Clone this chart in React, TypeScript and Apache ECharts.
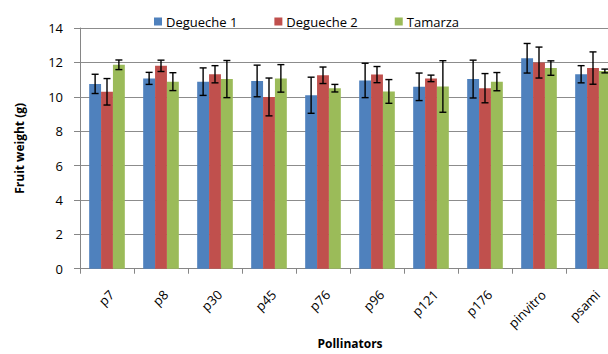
import React, { useEffect, useRef } from "react";
import * as echarts from "echarts";

const categories = ["p7", "p8", "p30", "p45", "p76", "p96", "p121", "p176", "pinvitro", "psami"];
const seriesNames = ["Degueche 1", "Degueche 2", "Tamarza"];
const degueche1 = [10.75, 11.07, 10.88, 10.92, 10.09, 10.95, 10.58, 11.03, 12.24, 11.31];
const degueche2 = [10.29, 11.8, 11.31, 9.99, 11.25, 11.29, 11.07, 10.5, 11.99, 11.67];
const tamarza = [11.86, 10.88, 11.03, 11.07, 10.5, 10.31, 10.6, 10.88, 11.67, 11.5];
const err1 = [0.56, 0.35, 0.8, 0.92, 1.05, 1.0, 0.8, 1.1, 0.86, 0.5];
const err2 = [0.77, 0.33, 0.5, 1.1, 0.48, 0.47, 0.19, 0.85, 0.9, 0.94];
const err3 = [0.28, 0.52, 1.08, 0.8, 0.22, 0.69, 1.5, 0.53, 0.42, 0.11];
const yTicks = [0, 2, 4, 6, 8, 10, 12, 14];

const colors = ["#4F81BD", "#C0504D", "#9BBB59"];
const values = [degueche1, degueche2, tamarza];
const errors = [err1, err2, err3];
const CAT_GAP = 0.34;

export default function App() {
  const ref = useRef<HTMLDivElement>(null);
  useEffect(() => {
    if (!ref.current) return;
    const chart = echarts.init(ref.current, undefined, { renderer: "svg" });
    const font = "'Open Sans', 'Noto Sans', sans-serif";

    const barSeries = values.map((vals, i) => ({
      type: "bar",
      name: seriesNames[i],
      data: vals,
      barGap: "0%",
      barCategoryGap: CAT_GAP * 100 + "%",
      itemStyle: { color: colors[i] },
    }));

    const errSeries = values.map((vals, i) => ({
      type: "custom",
      name: seriesNames[i] + " err",
      data: vals.map((v, j) => [j, v - errors[i][j], v + errors[i][j]]),
      z: 10,
      renderItem: (params: any, api: any) => {
        const cat = api.value(0);
        const lo = api.coord([cat, api.value(1)]);
        const hi = api.coord([cat, api.value(2)]);
        const band = api.size([1, 0])[0];
        const bw = (band * (1 - CAT_GAP)) / 3;
        const x = lo[0] + (i - 1) * bw;
        const cap = 3.5;
        const style = { stroke: "#000", lineWidth: 1.4 };
        return {
          type: "group",
          children: [
            { type: "line", shape: { x1: x, y1: lo[1], x2: x, y2: hi[1] }, style },
            { type: "line", shape: { x1: x - cap, y1: lo[1], x2: x + cap, y2: lo[1] }, style },
            { type: "line", shape: { x1: x - cap, y1: hi[1], x2: x + cap, y2: hi[1] }, style },
          ],
        };
      },
    }));

    chart.setOption({
      animation: false,
      backgroundColor: "#fff",
      textStyle: { fontFamily: font },
      legend: {
        data: seriesNames,
        top: 10,
        left: 149,
        itemWidth: 8,
        itemHeight: 8,
        itemGap: 37,
        icon: "rect",
        textStyle: { fontSize: 13, color: "#000", fontFamily: font, padding: [0, 0, 0, -1] },
      },
      grid: { left: 80, top: 28, width: 540, height: 248 },
      xAxis: {
        type: "category",
        data: categories,
        name: "Pollinators",
        nameLocation: "middle",
        nameGap: 62,
        nameTextStyle: { fontWeight: "bold", fontSize: 12, color: "#000" },
        axisLine: { lineStyle: { color: "#868686" } },
        axisTick: { show: true, length: 5, lineStyle: { color: "#868686" } },
        axisLabel: { rotate: 45, fontSize: 13, color: "#000", margin: 19, interval: 0, verticalAlign: "top" },
      },
      yAxis: {
        type: "value",
        min: 0,
        max: 14,
        interval: 2,
        name: "Fruit weight (g)",
        nameLocation: "middle",
        nameRotate: 90,
        nameGap: 55,
        nameTextStyle: { fontWeight: "bold", fontSize: 12, color: "#000" },
        axisLine: { show: true, lineStyle: { color: "#868686" } },
        axisTick: { show: true, length: 6, lineStyle: { color: "#868686" } },
        axisLabel: {
          fontSize: 13,
          color: "#000",
          margin: 17,
          formatter: (v: number) => (yTicks.includes(v) ? String(v) : ""),
        },
        splitLine: { lineStyle: { color: "#8c8c8c", width: 1 } },
      },
      series: [...barSeries, ...errSeries],
    });
    return () => chart.dispose();
  }, []);

  return (
    <div style={{ position: "fixed", left: 0, top: 0, width: 608, height: 354, overflow: "hidden", background: "#fff" }}>
      <div ref={ref} style={{ width: 640, height: 354 }} />
    </div>
  );
}
